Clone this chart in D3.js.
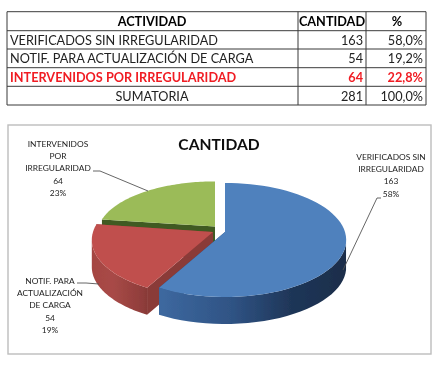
<!DOCTYPE html>
<html>
<head>
<meta charset="utf-8">
<script src="https://cdnjs.cloudflare.com/ajax/libs/d3/7.8.5/d3.min.js"></script>
<style>
  html, body { margin: 0; padding: 0; background: #fff; }
  svg { display: block; }
  text { font-family: Lato, "Open Sans", sans-serif; }
</style>
</head>
<body>
<script>
/* Data */
const tableHeader = ["ACTIVIDAD", "CANTIDAD", "%"];
const activities = ["VERIFICADOS SIN IRREGULARIDAD", "NOTIF. PARA ACTUALIZACIÓN DE CARGA", "INTERVENIDOS POR IRREGULARIDAD"];
const quantities = [163, 54, 64];
const percents = ["58,0%", "19,2%", "22,8%"];
const totalRow = ["SUMATORIA", "281", "100,0%"];
const chartTitle = "CANTIDAD";
const sliceLabels = [
  ["VERIFICADOS SIN", "IRREGULARIDAD", "163", "58%"],
  ["NOTIF. PARA", "ACTUALIZACIÓN", "DE CARGA", "54", "19%"],
  ["INTERVENIDOS", "POR", "IRREGULARIDAD", "64", "23%"]
];

const width = 448, height = 369;

let svg = d3.select("body")
  .append("svg")
  .attr("width", width)
  .attr("height", height);

/* soft filter, the reference is a scaled up picture */
svg.append("defs").append("filter")
  .attr("id", "soft")
  .append("feGaussianBlur")
  .attr("stdDeviation", 0.35);

let root = svg.append("g").attr("filter", "url(#soft)");

/* Table */
let rowLines = [11.7, 30.7, 49, 67.7, 86.3, 105];
let colLines = [7, 298, 366, 426];
let tableRows = [tableHeader]
  .concat(activities.map((a, i) => [a, String(quantities[i]), percents[i]]))
  .concat([totalRow]);

let table = root.append("g");

rowLines.forEach(y => {
  table.append("line").attr("x1", 7).attr("x2", 426).attr("y1", y).attr("y2", y)
    .attr("stroke", "#3a3a3a").attr("stroke-width", 1);
});
colLines.forEach(x => {
  table.append("line").attr("x1", x).attr("x2", x).attr("y1", 11.7).attr("y2", 105)
    .attr("stroke", "#3a3a3a").attr("stroke-width", 1);
});

tableRows.forEach((row, r) => {
  let y = (rowLines[r] + rowLines[r + 1]) / 2 + 0.3;
  let isHead = r === 0, isTotal = r === tableRows.length - 1, isRed = r === 3;
  let cell = (txt, x, anchor) => table.append("text")
    .attr("x", x).attr("y", y)
    .attr("dy", "0.36em")
    .attr("text-anchor", anchor)
    .attr("font-size", 12.7)
    .attr("font-weight", isHead || isRed ? 700 : 400)
    .attr("fill", isRed ? "#f01c24" : (isHead ? "#000" : "#222"))
    .text(txt);
  cell(row[0], isHead || isTotal ? 152 : 10, isHead || isTotal ? "middle" : "start");
  cell(row[1], isHead ? 332 : 363, isHead ? "middle" : "end");
  cell(row[2], isHead ? 397 : 423, isHead ? "middle" : "end");
});

/* Chart frame and title */
root.append("rect")
  .attr("x", 8).attr("y", 125).attr("width", 423).attr("height", 229)
  .attr("fill", "#fff").attr("stroke", "#bdbdbd").attr("stroke-width", 1.4);

root.append("text")
  .attr("x", 219).attr("y", 150)
  .attr("text-anchor", "middle")
  .attr("font-size", 15.6).attr("font-weight", 700).attr("fill", "#111")
  .text(chartTitle);

/* Pie: angles from d3.pie, then a perspective tilt onto the page */
const arcs = d3.pie().sort(null)(quantities);
const depth = 27, rx = 120, ry = 55.9, tilt = 0.14;
const sliceStyle = [
  { ax: 225, ay: 232, sy: 1, sx: 1, top: "#4f81bd", cut: "#2b4a75", side: "url(#sideBlue)" },
  { ax: 213, ay: 232, sy: 1, sx: 1, top: "#c0504d", cut: "#8a3a38", side: "url(#sideRed)" },
  { ax: 215, ay: 226.5, sy: 0.92, sx: 0.97, top: "#9bbb59", cut: "#3f5a20", side: "#5f7a30" }
];

function gradient(id, stops) {
  let g = svg.select("defs").append("linearGradient")
    .attr("id", id).attr("gradientUnits", "userSpaceOnUse")
    .attr("x1", 92).attr("x2", 347).attr("y1", 0).attr("y2", 0);
  stops.forEach(s => g.append("stop").attr("offset", s[0]).attr("stop-color", s[1]));
}
gradient("sideBlue", [[0.27, "#3d689f"], [0.55, "#2f5384"], [0.78, "#1f3658"], [1, "#1a2d4a"]]);
gradient("sideRed", [[0, "#a54542"], [0.08, "#a84a47"], [0.2, "#8f3d3b"], [0.24, "#7c3230"]]);

function project(st, angle, r) {
  let u = Math.sin(angle) * r, v = Math.cos(angle) * r;
  let w = 1 + tilt * v;
  return [st.ax + st.sx * rx * u / w, st.ay - st.sy * ry * v / w];
}

let line = d3.line();
let pieG = root.append("g");

/* back slice first so the nearer ones sit over it */
[2, 1, 0].forEach(i => {
  let st = sliceStyle[i], a = arcs[i];
  let angles = d3.range(0, 61).map(k => a.startAngle + (a.endAngle - a.startAngle) * k / 60);
  let rim = angles.map(t => project(st, t, 1));
  let apex = [st.ax, st.ay];
  let down = p => [p[0], p[1] + depth];

  /* cut faces */
  [rim[0], rim[rim.length - 1]].forEach(p => {
    pieG.append("path")
      .attr("d", line([apex, p, down(p), down(apex)]) + "Z")
      .attr("fill", st.cut);
  });

  /* outer wall, only the part facing the viewer (starts at the widest point of the rim) */
  let front = rim.filter((p, k) => Math.cos(angles[k]) < -tilt);
  pieG.append("path")
    .attr("d", line(front.concat(front.map(down).reverse())) + "Z")
    .attr("fill", st.side);

  /* top */
  pieG.append("path")
    .attr("d", line([apex].concat(rim)) + "Z")
    .attr("fill", st.top);
});

/* Leader lines */
let leaders = [
  [[381, 198], [377, 198], [343, 270]],
  [[77, 283], [86, 283], [99, 284]],
  [[93, 171], [100, 171], [148, 191]]
];
leaders.forEach(l => {
  root.append("path")
    .attr("d", line(l))
    .attr("fill", "none").attr("stroke", "#555").attr("stroke-width", 0.9);
});

/* Slice labels */
let labelPos = [
  { x: 391, y: 157 },
  { x: 50, y: 281 },
  { x: 58, y: 144 }
];
sliceLabels.forEach((lines, i) => {
  lines.forEach((txt, k) => {
    root.append("text")
      .attr("x", labelPos[i].x)
      .attr("y", labelPos[i].y + k * 12.2)
      .attr("dy", "0.36em")
      .attr("text-anchor", "middle")
      .attr("font-size", 8.4)
      .attr("fill", "#222")
      .text(txt);
  });
});
</script>
</body>
</html>
